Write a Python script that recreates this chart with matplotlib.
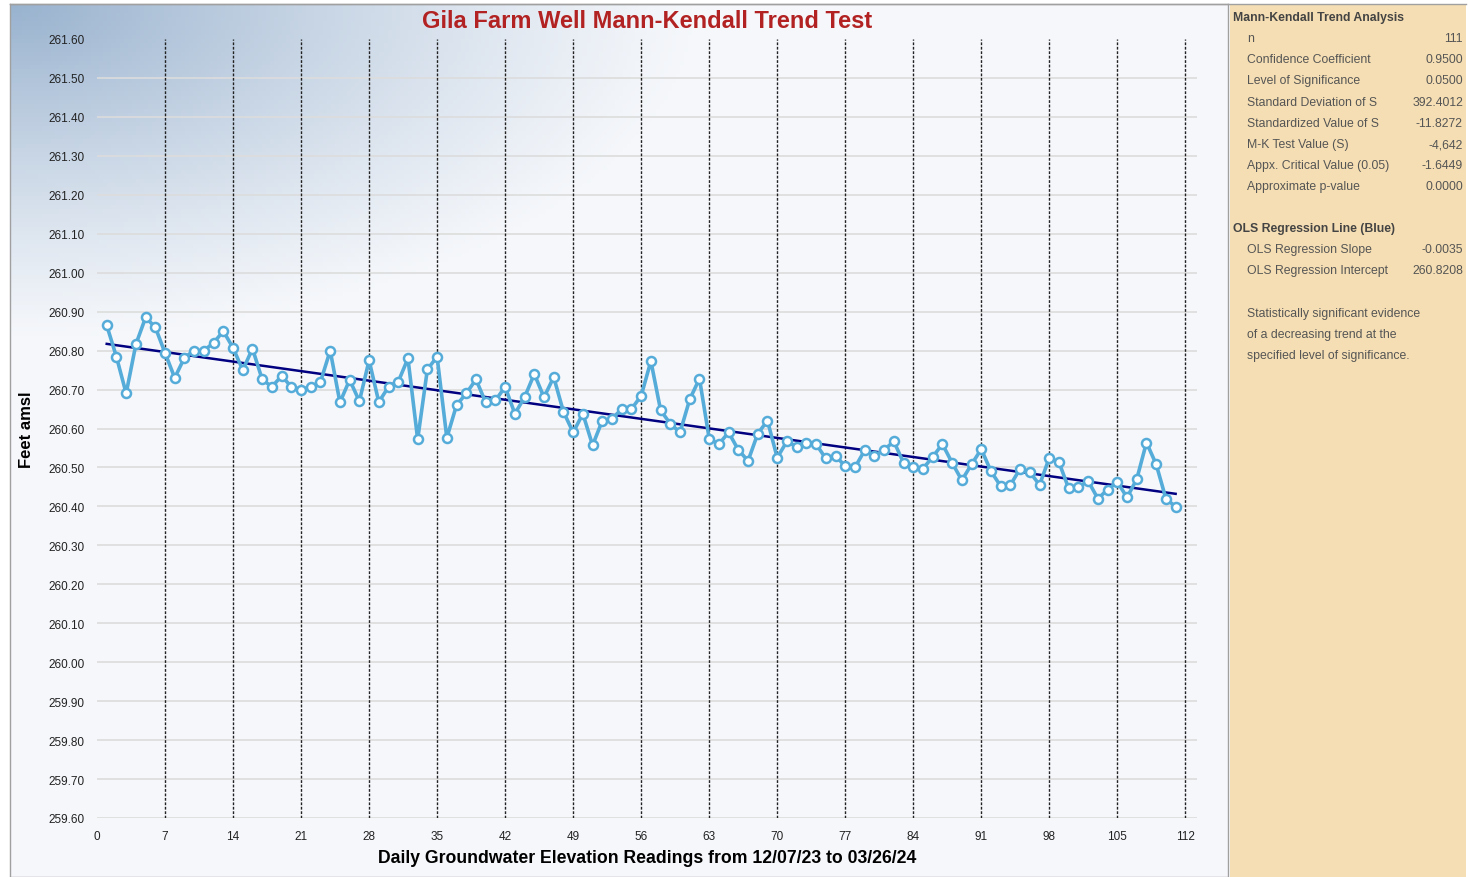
import numpy as np
import matplotlib.pyplot as plt
from matplotlib.patches import Rectangle

plt.rcParams['font.family'] = ['Liberation Sans', 'DejaVu Sans']

# daily readings (feet amsl), reading number 1..111
elev = [260.865, 260.784, 260.690, 260.816, 260.885, 260.860, 260.794, 260.730, 260.782, 260.800,
        260.800, 260.820, 260.850, 260.807, 260.750, 260.805, 260.726, 260.707, 260.735, 260.707,
        260.700, 260.707, 260.720, 260.800, 260.667, 260.725, 260.670, 260.775, 260.668, 260.707,
        260.720, 260.780, 260.572, 260.752, 260.784, 260.576, 260.660, 260.690, 260.726, 260.667,
        260.672, 260.707, 260.638, 260.680, 260.740, 260.680, 260.732, 260.643, 260.590, 260.638,
        260.557, 260.620, 260.625, 260.650, 260.650, 260.684, 260.773, 260.647, 260.612, 260.590,
        260.675, 260.728, 260.574, 260.560, 260.590, 260.545, 260.517, 260.587, 260.620, 260.525,
        260.567, 260.553, 260.562, 260.560, 260.523, 260.530, 260.503, 260.500, 260.544, 260.530,
        260.545, 260.567, 260.512, 260.500, 260.497, 260.527, 260.560, 260.512, 260.467, 260.508,
        260.547, 260.490, 260.452, 260.455, 260.497, 260.488, 260.455, 260.525, 260.513, 260.446,
        260.450, 260.465, 260.420, 260.443, 260.463, 260.423, 260.470, 260.564, 260.508, 260.420,
        260.399]
day = np.arange(1, len(elev) + 1)

ols_slope = -0.0035
ols_intercept = 260.8208

stats_rows = [("n", "111"),
              ("Confidence Coefficient", "0.9500"),
              ("Level of Significance", "0.0500"),
              ("Standard Deviation of S", "392.4012"),
              ("Standardized Value of S", "-11.8272"),
              ("M-K Test Value (S)", "-4,642"),
              ("Appx. Critical Value (0.05)", "-1.6449"),
              ("Approximate p-value", "0.0000")]
ols_rows = [("OLS Regression Slope", "-0.0035"),
            ("OLS Regression Intercept", "260.8208")]
conclusion = ["Statistically significant evidence",
              "of a decreasing trend at the",
              "specified level of significance."]

W, H = 1468, 878
fig = plt.figure(figsize=(W / 100, H / 100), dpi=100)
fig.patch.set_facecolor('white')

def fx(px):
    return px / W

def fy(py):
    return 1 - py / H

# gradient background of the chart panel
bg = fig.add_axes([fx(10), fy(878), fx(1228) - fx(10), fy(5) - fy(878)], zorder=0)
gx, gy = np.meshgrid(np.linspace(0, 1218, 300), np.linspace(0, 873, 200))
d = np.sqrt((gx / 700) ** 2 + (gy / 340) ** 2)
t = np.clip(1 - d, 0, 1) ** 1.2
c0 = np.array([0.965, 0.972, 0.985])
c1 = np.array([0.60, 0.70, 0.81])
img = c0[None, None, :] * (1 - t[..., None]) + c1[None, None, :] * t[..., None]
bg.imshow(img, aspect='auto', extent=[0, 1, 0, 1], origin='upper')
bg.set_xticks([])
bg.set_yticks([])
for s in bg.spines.values():
    s.set_color('#a0a0a0')
    s.set_linewidth(1.0)

# side panel
fig.patches.append(Rectangle((fx(1230), 0), fx(1466) - fx(1230), fy(5),
                             transform=fig.transFigure, facecolor='#f5deb3',
                             edgecolor='none', zorder=0))
fig.add_artist(plt.Line2D([fx(10), fx(1466)], [fy(5), fy(5)], color='#a0a0a0', lw=1.0))

ax = fig.add_axes([fx(97), fy(819), fx(1197) - fx(97), fy(40) - fy(819)], zorder=2)
ax.set_facecolor('none')

yt = np.round(np.arange(259.6, 261.601, 0.1), 2)
for v in yt[:-1]:
    ax.axhline(v, color='#dcdcdc', lw=1.2, zorder=1)
for v in range(7, 113, 7):
    ax.axvline(v, color='#222222', lw=1.0, ls=(0, (2, 1.2)), zorder=1)

ax.plot(day, ols_intercept + ols_slope * day, color='#000080', lw=1.8, zorder=3)
ax.plot(day, elev, color='#55acd9', lw=2.6, marker='o', markersize=6.5,
        markerfacecolor='white', markeredgecolor='#55acd9', markeredgewidth=1.8, zorder=4)

ax.set_xlim(0, 113.2)
ax.set_ylim(259.6, 261.6)
ax.set_xticks(range(0, 113, 7))
ax.set_yticks(yt)
ax.set_yticklabels([f"{v:.2f}" for v in yt])
ax.tick_params(length=0, labelsize=8.5, colors='#222222', pad=9)
for s in ax.spines.values():
    s.set_visible(False)

ax.set_xlabel("Daily Groundwater Elevation Readings from 12/07/23 to 03/26/24",
              fontsize=12.7, fontweight='bold', labelpad=5)
ax.set_ylabel("Feet amsl", fontsize=12, fontweight='bold', labelpad=10)

fig.text(fx(647), fy(21), "Gila Farm Well Mann-Kendall Trend Test", ha='center', va='center',
         fontsize=17, fontweight='bold', color='#b22222')

# statistics panel text
tc = '#555555'
fs = 8.8
fig.text(fx(1233), fy(18), "Mann-Kendall Trend Analysis", fontsize=fs, fontweight='bold',
         color='#444444', va='center')
for k, (lab, val) in enumerate(stats_rows):
    y = 39 + k * 21.2
    fig.text(fx(1247), fy(y), lab, fontsize=fs, color=tc, va='center')
    fig.text(fx(1463), fy(y), val, fontsize=fs, color=tc, va='center', ha='right')
fig.text(fx(1233), fy(229), "OLS Regression Line (Blue)", fontsize=fs, fontweight='bold',
         color='#444444', va='center')
for k, (lab, val) in enumerate(ols_rows):
    y = 250 + k * 21.2
    fig.text(fx(1247), fy(y), lab, fontsize=fs, color=tc, va='center')
    fig.text(fx(1463), fy(y), val, fontsize=fs, color=tc, va='center', ha='right')
for k, line in enumerate(conclusion):
    fig.text(fx(1247), fy(314 + k * 21.2), line, fontsize=fs, color=tc, va='center')

fig.savefig("out.png", dpi=100)
